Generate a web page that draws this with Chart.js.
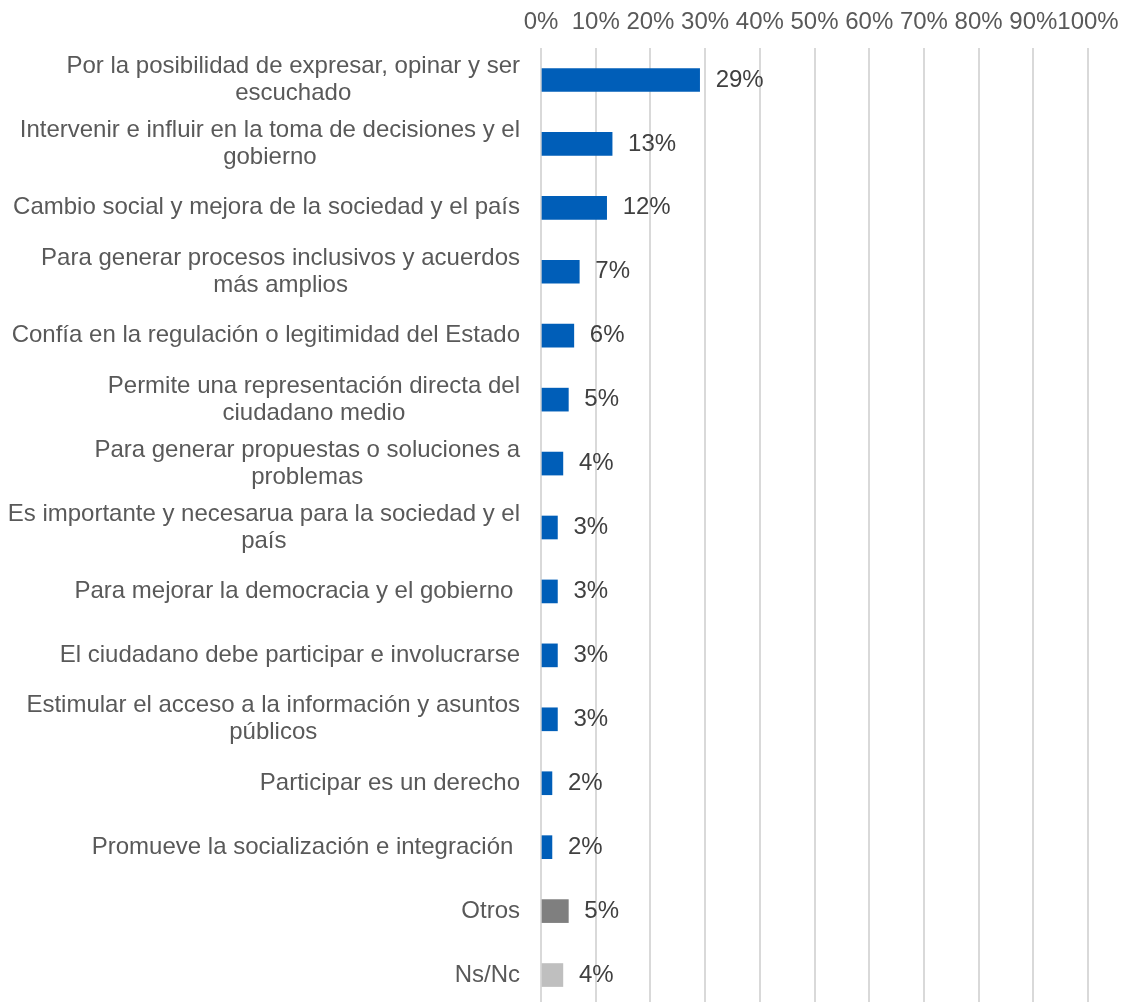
<!DOCTYPE html>
<html lang="es">
<head>
<meta charset="utf-8">
<title>Razones para participar</title>
<script src="https://cdn.jsdelivr.net/npm/chart.js@4/dist/chart.umd.min.js"></script>
<style>
    html, body { margin: 0; padding: 0; background: #fff; overflow: hidden; }
    #wrap { width: 1124px; height: 1010px; }
</style>
</head>
<body>
<div id="wrap"><canvas id="chart" width="1124" height="1010"></canvas></div>
<script>
// Data
const categories = [
    ['Por la posibilidad de expresar, opinar y ser', 'escuchado'],
    ['Intervenir e influir en la toma de decisiones y el', 'gobierno'],
    ['Cambio social y mejora de la sociedad y el país'],
    ['Para generar procesos inclusivos y acuerdos', 'más amplios'],
    ['Confía en la regulación o legitimidad del Estado'],
    ['Permite una representación directa del', 'ciudadano medio'],
    ['Para generar propuestas o soluciones a', 'problemas'],
    ['Es importante y necesarua para la sociedad y el', 'país'],
    ['Para mejorar la democracia y el gobierno '],
    ['El ciudadano debe participar e involucrarse'],
    ['Estimular el acceso a la información y asuntos', 'públicos'],
    ['Participar es un derecho'],
    ['Promueve la socialización e integración '],
    ['Otros'],
    ['Ns/Nc']
];
const values = [29, 13, 12, 7, 6, 5, 4, 3, 3, 3, 3, 2, 2, 5, 4];
const tickValues = [0, 10, 20, 30, 40, 50, 60, 70, 80, 90, 100];

const barColors = values.map((v, i) => {
    if (i === values.length - 2) return '#7F7F7F';
    if (i === values.length - 1) return '#BFBFBF';
    return '#005EB8';
});

const FONT = '"Liberation Sans", Arial, sans-serif';
const FONT_SIZE = 24;

// Category labels: each block centred on itself, right edge next to the axis
const categoryLabels = {
    id: 'categoryLabels',
    afterDraw(chart) {
        const ctx = chart.ctx;
        const yScale = chart.scales.y;
        const rightEdge = chart.chartArea.left - 21;
        const lineH = 27;
        ctx.save();
        ctx.font = FONT_SIZE + 'px ' + FONT;
        ctx.fillStyle = '#595959';
        ctx.textAlign = 'center';
        ctx.textBaseline = 'middle';
        categories.forEach((lines, i) => {
            const y = yScale.getPixelForTick(i);
            const w = Math.max(...lines.map(l => ctx.measureText(l).width));
            const cx = rightEdge - w / 2;
            lines.forEach((line, j) => {
                ctx.fillText(line, cx, y + (j - (lines.length - 1) / 2) * lineH);
            });
        });
        ctx.restore();
    }
};

// Value labels to the right of each bar
const valueLabels = {
    id: 'valueLabels',
    afterDatasetsDraw(chart) {
        const ctx = chart.ctx;
        const meta = chart.getDatasetMeta(0);
        ctx.save();
        ctx.font = FONT_SIZE + 'px ' + FONT;
        ctx.fillStyle = '#404040';
        ctx.textAlign = 'left';
        ctx.textBaseline = 'middle';
        meta.data.forEach((bar, i) => {
            ctx.fillText(values[i] + '%', bar.x + 16, bar.y);
        });
        ctx.restore();
    }
};

new Chart(document.getElementById('chart'), {
    type: 'bar',
    data: {
        labels: categories.map(c => c.join(' ')),
        datasets: [{
            data: values,
            backgroundColor: barColors,
            borderWidth: 0,
            barThickness: 23
        }]
    },
    options: {
        indexAxis: 'y',
        responsive: false,
        animation: false,
        devicePixelRatio: 1,
        layout: { padding: { left: 541, right: 36, top: 0, bottom: 3 } },
        plugins: {
            legend: { display: false },
            tooltip: { enabled: false }
        },
        scales: {
            x: {
                position: 'top',
                min: 0,
                max: 100,
                afterBuildTicks(scale) {
                    scale.ticks = tickValues.map(v => ({ value: v }));
                },
                afterFit(scale) {
                    scale.height = 48;
                    scale.paddingLeft = 0;
                    scale.paddingRight = 0;
                },
                ticks: {
                    padding: 11,
                    color: '#595959',
                    font: { family: FONT, size: FONT_SIZE },
                    maxRotation: 0,
                    autoSkip: false,
                    callback: v => v + '%'
                },
                grid: {
                    color: '#D9D9D9',
                    lineWidth: 2,
                    drawTicks: false
                },
                border: { display: false }
            },
            y: {
                ticks: { display: false },
                grid: { display: false },
                border: { display: false },
                afterFit(scale) { scale.width = 0; }
            }
        }
    },
    plugins: [categoryLabels, valueLabels]
});
</script>
</body>
</html>
